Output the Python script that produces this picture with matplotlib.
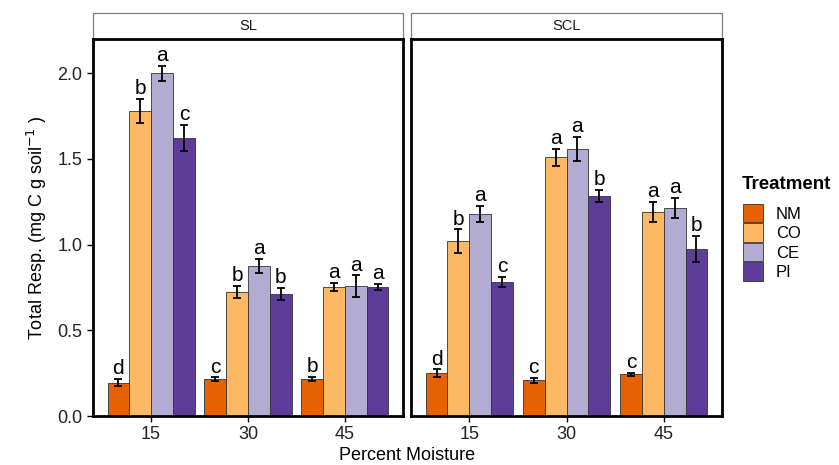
import numpy as np
import matplotlib
matplotlib.use("Agg")
import matplotlib.pyplot as plt
from matplotlib.patches import Patch, Rectangle

plt.rcParams['font.family'] = ['Liberation Sans', 'DejaVu Sans']

moisture = ["15", "30", "45"]
treatments = ["NM", "CO", "CE", "PI"]
colors = ["#E66101", "#FDB863", "#B2ABD2", "#5E3C99"]
soils = ["SL", "SCL"]

# means[soil][treatment] across moisture 15, 30, 45
sl_means = {
    "NM": [0.195, 0.215, 0.215],
    "CO": [1.78, 0.725, 0.755],
    "CE": [2.00, 0.877, 0.758],
    "PI": [1.623, 0.713, 0.755],
}
sl_err = {
    "NM": [0.02, 0.01, 0.013],
    "CO": [0.07, 0.035, 0.023],
    "CE": [0.045, 0.04, 0.063],
    "PI": [0.075, 0.035, 0.018],
}
sl_letters = {
    "NM": ["d", "c", "b"],
    "CO": ["b", "b", "a"],
    "CE": ["a", "a", "a"],
    "PI": ["c", "b", "a"],
}
scl_means = {
    "NM": [0.25, 0.208, 0.243],
    "CO": [1.02, 1.51, 1.19],
    "CE": [1.178, 1.56, 1.215],
    "PI": [0.783, 1.285, 0.976],
}
scl_err = {
    "NM": [0.022, 0.015, 0.01],
    "CO": [0.07, 0.05, 0.06],
    "CE": [0.047, 0.07, 0.06],
    "PI": [0.028, 0.036, 0.075],
}
scl_letters = {
    "NM": ["d", "c", "c"],
    "CO": ["b", "a", "a"],
    "CE": ["a", "a", "a"],
    "PI": ["c", "b", "b"],
}

data = {
    "SL": (sl_means, sl_err, sl_letters),
    "SCL": (scl_means, scl_err, scl_letters),
}

fig = plt.figure(figsize=(8.39, 4.65), dpi=100)
W, H = 839, 465
panel_px = [(93, 403), (411, 722)]
top_px, bot_px = 39, 416
strip_h = 26

bw = 0.225
x = np.arange(1, len(moisture) + 1)
axes = []
for i, soil in enumerate(soils):
    l, r = panel_px[i]
    ax = fig.add_axes([l / W, (H - bot_px) / H, (r - l) / W, (bot_px - top_px) / H])
    axes.append(ax)
    means, errs, letters = data[soil]
    for j, t in enumerate(treatments):
        xpos = x + (j - 1.5) * bw
        ax.bar(xpos, means[t], width=bw, color=colors[j], edgecolor="#333333",
               linewidth=0.6, zorder=2)
        ax.errorbar(xpos, means[t], yerr=errs[t], fmt="none", ecolor="black",
                    elinewidth=1.3, capsize=3, capthick=1.3, zorder=3)
        for xp, m, e, lab in zip(xpos, means[t], errs[t], letters[t]):
            ax.annotate(lab, (xp, m + e), xytext=(0, 0.5), textcoords="offset points",
                        ha="center", va="bottom", fontsize=15)
    ax.set_xlim(0.4, 3.6)
    ax.set_ylim(0, 2.2)
    ax.set_xticks(x)
    ax.set_xticklabels(moisture, fontsize=13)
    ax.set_yticks([0, 0.5, 1.0, 1.5, 2.0])
    if i == 0:
        ax.set_yticklabels(["0.0", "0.5", "1.0", "1.5", "2.0"], fontsize=13)
        ax.set_ylabel("Total Resp. (mg C g soil$^{-1}$ )", fontsize=13, labelpad=6)
    else:
        ax.tick_params(axis="y", left=False, labelleft=False)
    ax.tick_params(axis="both", length=4, width=1.0, color="black", labelcolor="#222222")
    for sp in ax.spines.values():
        sp.set_linewidth(2.0)
        sp.set_color("black")
    # facet strip
    sh = strip_h / (bot_px - top_px)
    ax.add_patch(Rectangle((0, 1.0), 1, sh, transform=ax.transAxes, clip_on=False,
                           facecolor="white", edgecolor="#7f7f7f", linewidth=0.9))
    ax.text(0.5, 1 + sh / 2, soil, transform=ax.transAxes, ha="center", va="center",
            fontsize=10.5, color="#1a1a1a")

fig.text(((panel_px[0][0] + panel_px[1][1]) / 2) / W, 1 - 455 / H, "Percent Moisture",
         ha="center", va="center", fontsize=13)

fig.text(742 / W, 1 - 184 / H, "Treatment", ha="left", va="center",
         fontsize=13.5, fontweight="bold")
handles = [Patch(facecolor=c, edgecolor="#333333", linewidth=0.6) for c in colors]
leg = fig.legend(handles, treatments, loc="upper left",
                 bbox_to_anchor=(741 / W, 1 - 202 / H), frameon=False, fontsize=12,
                 handlelength=1.2, handleheight=1.35, labelspacing=0.05,
                 handletextpad=0.8, borderpad=0.1, borderaxespad=0)

fig.savefig("out.png", dpi=100)
